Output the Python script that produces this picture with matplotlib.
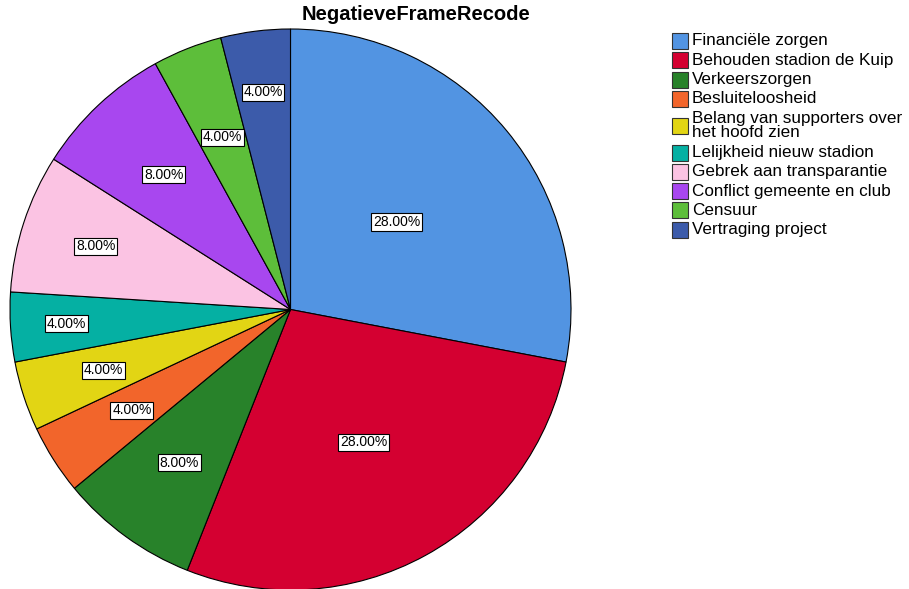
import numpy as np
import matplotlib.pyplot as plt
from matplotlib.patches import Rectangle


# =========================================
# DATA
# =========================================

categories = [
    "Financiële zorgen",
    "Behouden stadion de Kuip",
    "Verkeerszorgen",
    "Besluiteloosheid",
    "Belang van supporters over\nhet hoofd zien",
    "Lelijkheid nieuw stadion",
    "Gebrek aan transparantie",
    "Conflict gemeente en club",
    "Censuur",
    "Vertraging project",
]

percentages = [28, 28, 8, 4, 4, 4, 8, 8, 4, 4]

colors = [
    "#5294E2",
    "#D40031",
    "#28822A",
    "#F2652B",
    "#E2D514",
    "#05B0A3",
    "#FBC3E3",
    "#A847EF",
    "#5DBE3A",
    "#3C5BAA",
]

# label distance from centre, per slice (fraction of radius)
label_dist = [0.49, 0.54, 0.675, 0.67, 0.70, 0.80, 0.73, 0.66, 0.66, 0.78]

plt.rcParams["font.family"] = ["Liberation Sans", "DejaVu Sans"]

fig = plt.figure(figsize=(9.09, 5.89), dpi=100)

# =========================================
# PIE
# =========================================

ax = fig.add_axes([10 / 909, -1 / 589, 561 / 909, 561 / 589])

wedges, _ = ax.pie(
    percentages,
    colors=colors,
    startangle=90,
    counterclock=False,
    wedgeprops=dict(edgecolor="black", linewidth=0.8),
)

ax.set_xlim(-1, 1)
ax.set_ylim(-1, 1)
ax.set_aspect("equal")
ax.axis("off")

for w, pct, d in zip(wedges, percentages, label_dist):

    ang = np.deg2rad((w.theta1 + w.theta2) / 2)

    ax.text(
        d * np.cos(ang),
        d * np.sin(ang),
        f"{pct:.2f}%",
        ha="center",
        va="center",
        fontsize=10,
        bbox=dict(
            boxstyle="square,pad=0.12",
            facecolor="white",
            edgecolor="black",
            linewidth=0.8,
        ),
    )

fig.text(
    416 / 909,
    1 - 15 / 589,
    "NegatieveFrameRecode",
    ha="center",
    va="center",
    fontsize=14.5,
    fontweight="bold",
)

# =========================================
# LEGEND
# =========================================

y = 41

for name, col in zip(categories, colors):

    lines = name.count("\n") + 1

    mid = y + 7.5 * (lines - 1)

    fig.patches.append(
        Rectangle(
            (672 / 909, 1 - (mid + 8) / 589),
            16 / 909,
            16 / 589,
            transform=fig.transFigure,
            facecolor=col,
            edgecolor="#333333",
            linewidth=0.8,
        )
    )

    fig.text(
        692 / 909,
        1 - mid / 589,
        name,
        ha="left",
        va="center",
        fontsize=12.3,
        linespacing=0.88,
    )

    y += 19.3 + 15 * (lines - 1)

fig.savefig("out.png", dpi=100)
